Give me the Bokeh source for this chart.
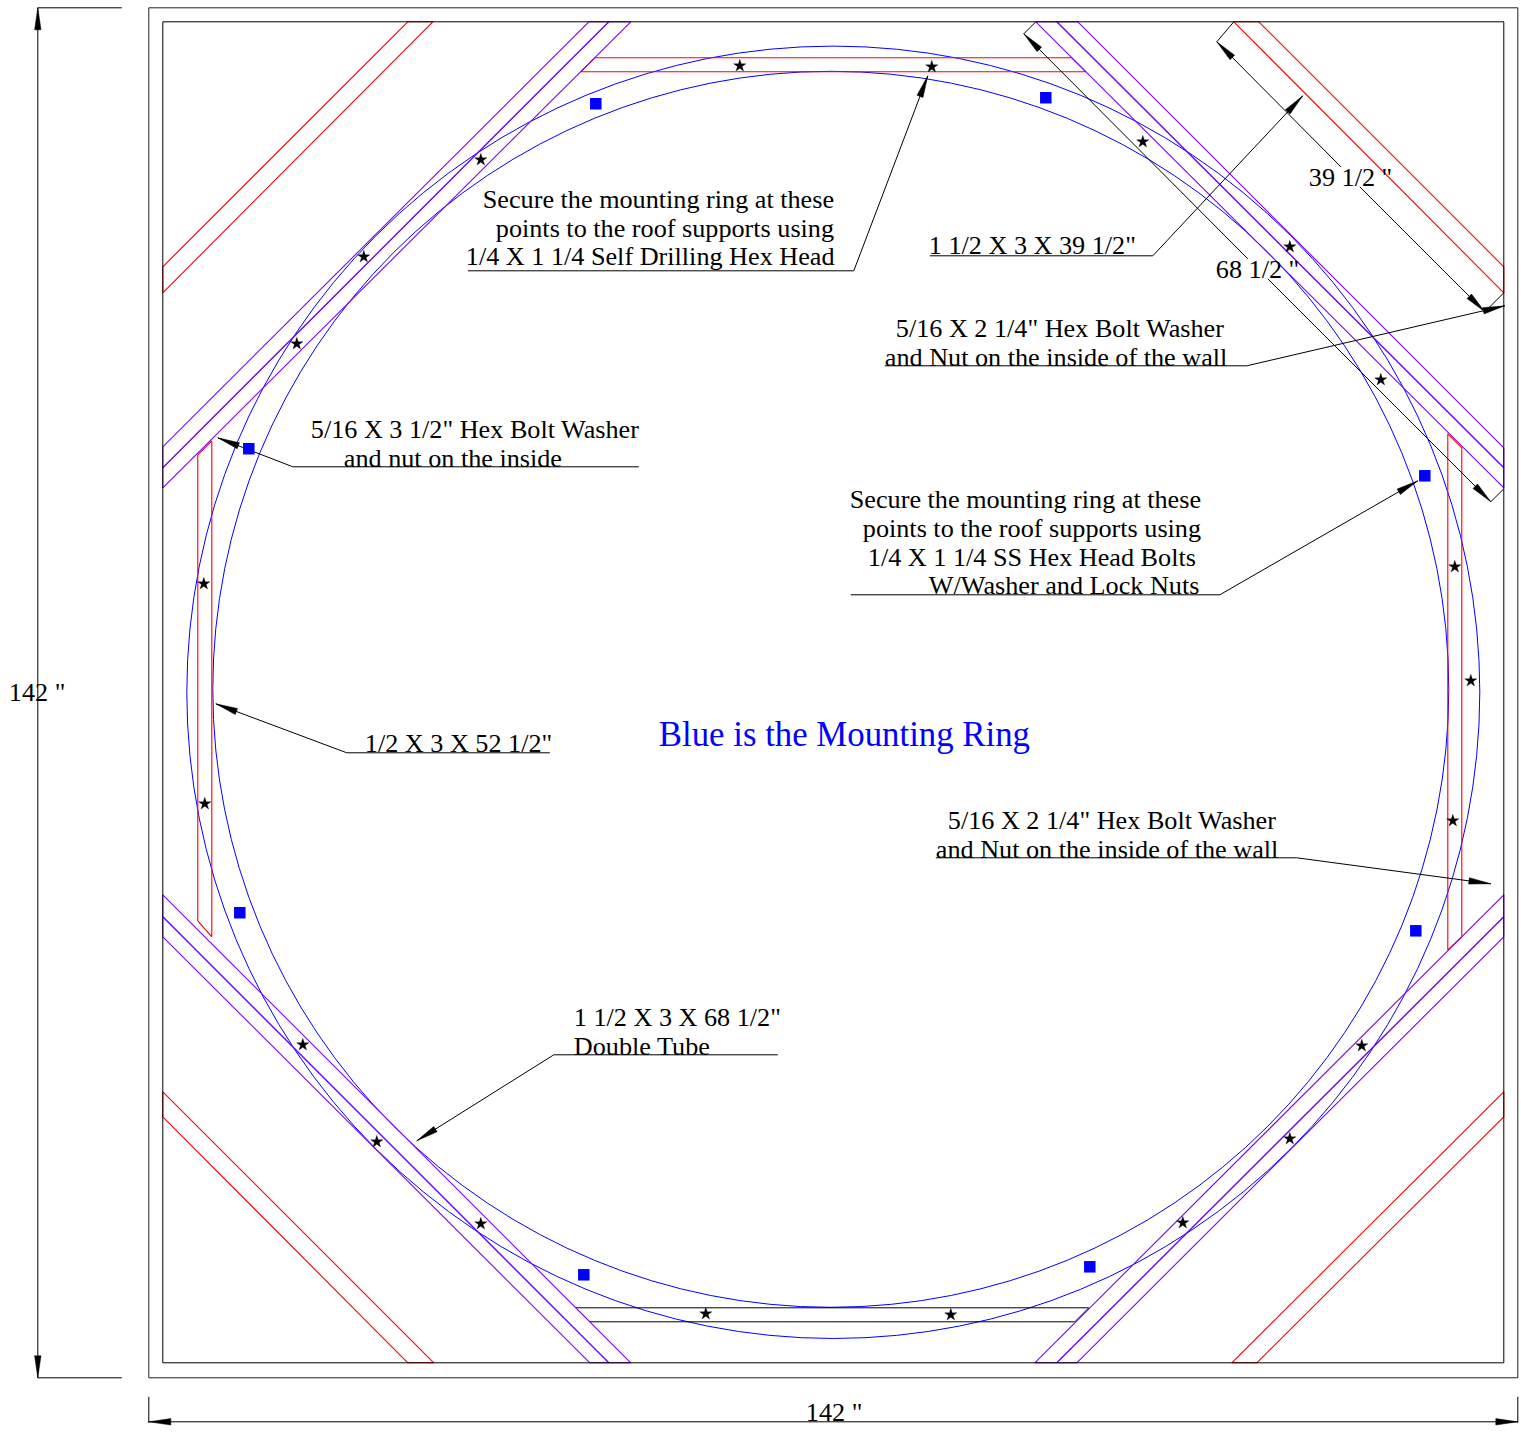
import math
from bokeh.plotting import figure
from bokeh.models import Range1d
from bokeh.core.properties import value
from bokeh.embed import file_html
from bokeh.resources import INLINE

SERIF = "Liberation Serif"

# frames: left, right, top, bottom
outer_frame = (149, 1518, 8, 1378)
inner_frame = (163, 1504, 22, 1363)

# mounting ring: centre x, centre y, radius
ring_outer = (833.5, 692.5, 646.5)
ring_inner = (831, 689.5, 618)

# long diagonal tubes (purple): pairs of end points, outer, middle, outer
purple_side = [
    [(163, 447), (589, 22)], [(163, 488), (631, 22)],
    [(1036, 22), (1504, 488)], [(1078, 22), (1504, 448)],
    [(163, 895), (631, 1363)], [(163, 937), (590, 1363)],
    [(1504, 895), (1035, 1363)], [(1504, 937), (1077, 1363)],
]
purple_middle = [
    [(163, 468), (609, 22)], [(1057, 22), (1504, 468)],
    [(163, 917), (609, 1363)], [(1504, 917), (1057, 1363)],
]
purple_caps = [
    [(163, 447), (163, 488)], [(589, 22), (631, 22)],
    [(1036, 22), (1078, 22)], [(1504, 448), (1504, 488)],
    [(163, 895), (163, 937)], [(590, 1363), (631, 1363)],
    [(1035, 1363), (1077, 1363)], [(1504, 895), (1504, 937)],
]

# red closed outlines
red_corner_bands = [
    [(163, 267), (408, 22), (433, 22), (163, 293), (163, 267)],
    [(1234, 22), (1259, 22), (1504, 267), (1504, 293), (1234, 22)],
    [(163, 1092), (163, 1117), (408, 1363), (434, 1363), (163, 1092)],
    [(1504, 1092), (1504, 1117), (1257, 1363), (1232, 1363), (1504, 1092)],
]
red_short_tubes = [
    [(595, 58), (1072, 58), (1086, 72), (581, 72), (595, 58)],
    [(198, 455), (212, 441), (212, 937), (198, 921), (198, 455)],
    [(1448, 434), (1462, 448), (1462, 937), (1448, 950), (1448, 434)],
]
black_short_tube = [[(576, 1308), (1089, 1308), (1075, 1322), (590, 1322), (576, 1308)]]

# fasteners
stars_x = [740, 932, 481, 364, 297, 1143, 1290, 1381, 204, 205, 1455, 1471, 1453,
           303, 377, 481, 706, 951, 1362, 1290, 1183]
stars_y = [66, 67, 160, 257, 344, 142, 247, 380, 584, 804, 567, 681, 821,
           1045, 1142, 1224, 1314, 1315, 1046, 1139, 1223]
squares_x = [596, 1046, 249, 1425, 240, 1416, 584, 1090]
squares_y = [104, 98, 449, 476, 913, 931, 1275, 1267]

# dimension and leader polylines (no arrowheads)
dim_lines = [
    [(38, 8), (122, 8)], [(38, 1378), (122, 1378)], [(38, 8), (38, 1378)],
    [(149, 1397), (149, 1423)], [(1518, 1397), (1518, 1423)], [(149, 1422), (1518, 1422)],
    [(1234, 22), (1217, 42), (1341, 167)], [(1360, 187), (1485, 312), (1504, 293)],
    [(1036, 22), (1024, 34), (1248, 259)], [(1268, 279), (1491, 502), (1504, 489)],
]
leaders = [
    [(468, 271), (854, 271), (928, 76)],
    [(930, 256), (1153, 256), (1303, 96)],
    [(885, 366), (1247, 366), (1505, 306)],
    [(639, 467), (293, 467), (218, 438)],
    [(851, 595), (1220, 595), (1418, 481)],
    [(550, 753), (347, 753), (216, 704)],
    [(936, 858), (1297, 858), (1491, 884)],
    [(778, 1055), (554, 1055), (417, 1141)],
]
# arrowheads: tip, a point further along the shaft
arrows = [
    [(38, 8), (38, 100)], [(38, 1378), (38, 1300)],
    [(149, 1422), (300, 1422)], [(1518, 1422), (1300, 1422)],
    [(1217, 42), (1341, 167)], [(1485, 312), (1360, 187)],
    [(1024, 34), (1248, 259)], [(1491, 502), (1268, 279)],
    [(928, 76), (854, 271)], [(1303, 96), (1153, 256)],
    [(1505, 306), (1247, 366)], [(218, 438), (293, 467)],
    [(1418, 481), (1220, 595)], [(216, 704), (347, 753)],
    [(1491, 884), (1297, 858)], [(417, 1141), (554, 1055)],
]

# annotations: text, left x, baseline y
labels = [
    ("Secure the mounting ring at these", 483, 208),
    ("points to the roof supports using", 496, 237),
    ("1/4 X 1 1/4 Self Drilling Hex Head", 466, 265),
    ('1 1/2 X 3 X 39 1/2"', 929, 254),
    ('39 1/2 "', 1309, 186),
    ('68 1/2 "', 1216, 278),
    ('5/16 X 2 1/4" Hex Bolt Washer', 896, 337),
    ("and Nut on the inside of the wall", 885, 366),
    ('5/16 X 3 1/2" Hex Bolt Washer', 311, 438),
    ("and nut on the inside", 344, 467),
    ("Secure the mounting ring at these", 850, 508),
    ("points to the roof supports using", 863, 537),
    ("1/4 X 1 1/4 SS Hex Head Bolts", 868, 566),
    ("W/Washer and Lock Nuts", 929, 594),
    ('1/2 X 3 X 52 1/2"', 365, 752),
    ('5/16 X 2 1/4" Hex Bolt Washer', 948, 829),
    ("and Nut on the inside of the wall", 936, 858),
    ('1 1/2 X 3 X 68 1/2"', 574, 1026),
    ("Double Tube", 574, 1055),
    ('142 "', 9, 701),
    ('142 "', 806, 1421),
]
title_label = ("Blue is the Mounting Ring", 659, 746)

LABEL_PX, TITLE_PX = 26.2, 34.8

W, H = 1521, 1433
p = figure(width=W, height=H, x_range=Range1d(0.7, W + 0.7), y_range=Range1d(H + 0.7, 0.7),
           output_backend="svg", toolbar_location=None, min_border=0)
p.axis.visible = False
p.grid.visible = False
p.outline_line_color = None
p.background_fill_color = "white"


def polylines(rows, color, width=1.0):
    p.multi_line([[a for a, _ in r] for r in rows], [[b for _, b in r] for r in rows],
                 line_color=color, line_width=width)


def frame(b, color):
    l, r, t, bot = b
    p.line([l, r, r, l, l], [t, t, bot, bot, t], line_color=color, line_width=1)


frame(outer_frame, "#222222")

for cx, cy, rad in (ring_outer, ring_inner):
    p.circle([cx], [cy], radius=[rad], fill_color=None, line_color="#0000ff", line_width=1)

polylines(red_corner_bands, "#ff0000", 1.1)
polylines(red_short_tubes, "#ff0000", 1.1)
polylines(black_short_tube, "#000000")
polylines(purple_side, "#7f00ff", 1.1)
polylines(purple_middle, "#6a00ff", 1.4)
polylines(purple_caps, "#7f00ff")
frame(inner_frame, "#000000")
polylines(dim_lines, "#000000")
polylines(leaders, "#000000")

hx, hy = [], []
for (tx, ty), (sx, sy) in arrows:
    d = math.hypot(sx - tx, sy - ty)
    ux, uy = (sx - tx) / d, (sy - ty) / d
    bx, by = tx + ux * 22, ty + uy * 22
    hx.append([tx, bx - uy * 3.2, bx + uy * 3.2])
    hy.append([ty, by + ux * 3.2, by - ux * 3.2])
p.patches(hx, hy, fill_color="black", line_color="black", line_width=0.5)

p.scatter(stars_x, stars_y, marker="star", size=13, fill_color="black", line_color="black", line_width=0.3)
p.scatter(squares_x, squares_y, marker="square", size=11.5, fill_color="#0000ff", line_color="#0000ff", line_width=0)

p.text([l[1] for l in labels], [l[2] - 0.33 * LABEL_PX for l in labels], text=[l[0] for l in labels],
       text_font=value(SERIF), text_font_size=f"{LABEL_PX}px", text_color="black",
       text_baseline="alphabetic", text_align="left")
p.text([title_label[1]], [title_label[2] - 0.33 * TITLE_PX], text=[title_label[0]],
       text_font=value(SERIF), text_font_size=f"{TITLE_PX}px", text_color="#0000ff",
       text_baseline="alphabetic", text_align="left")

open("out.html", "w").write(file_html(p, INLINE))
